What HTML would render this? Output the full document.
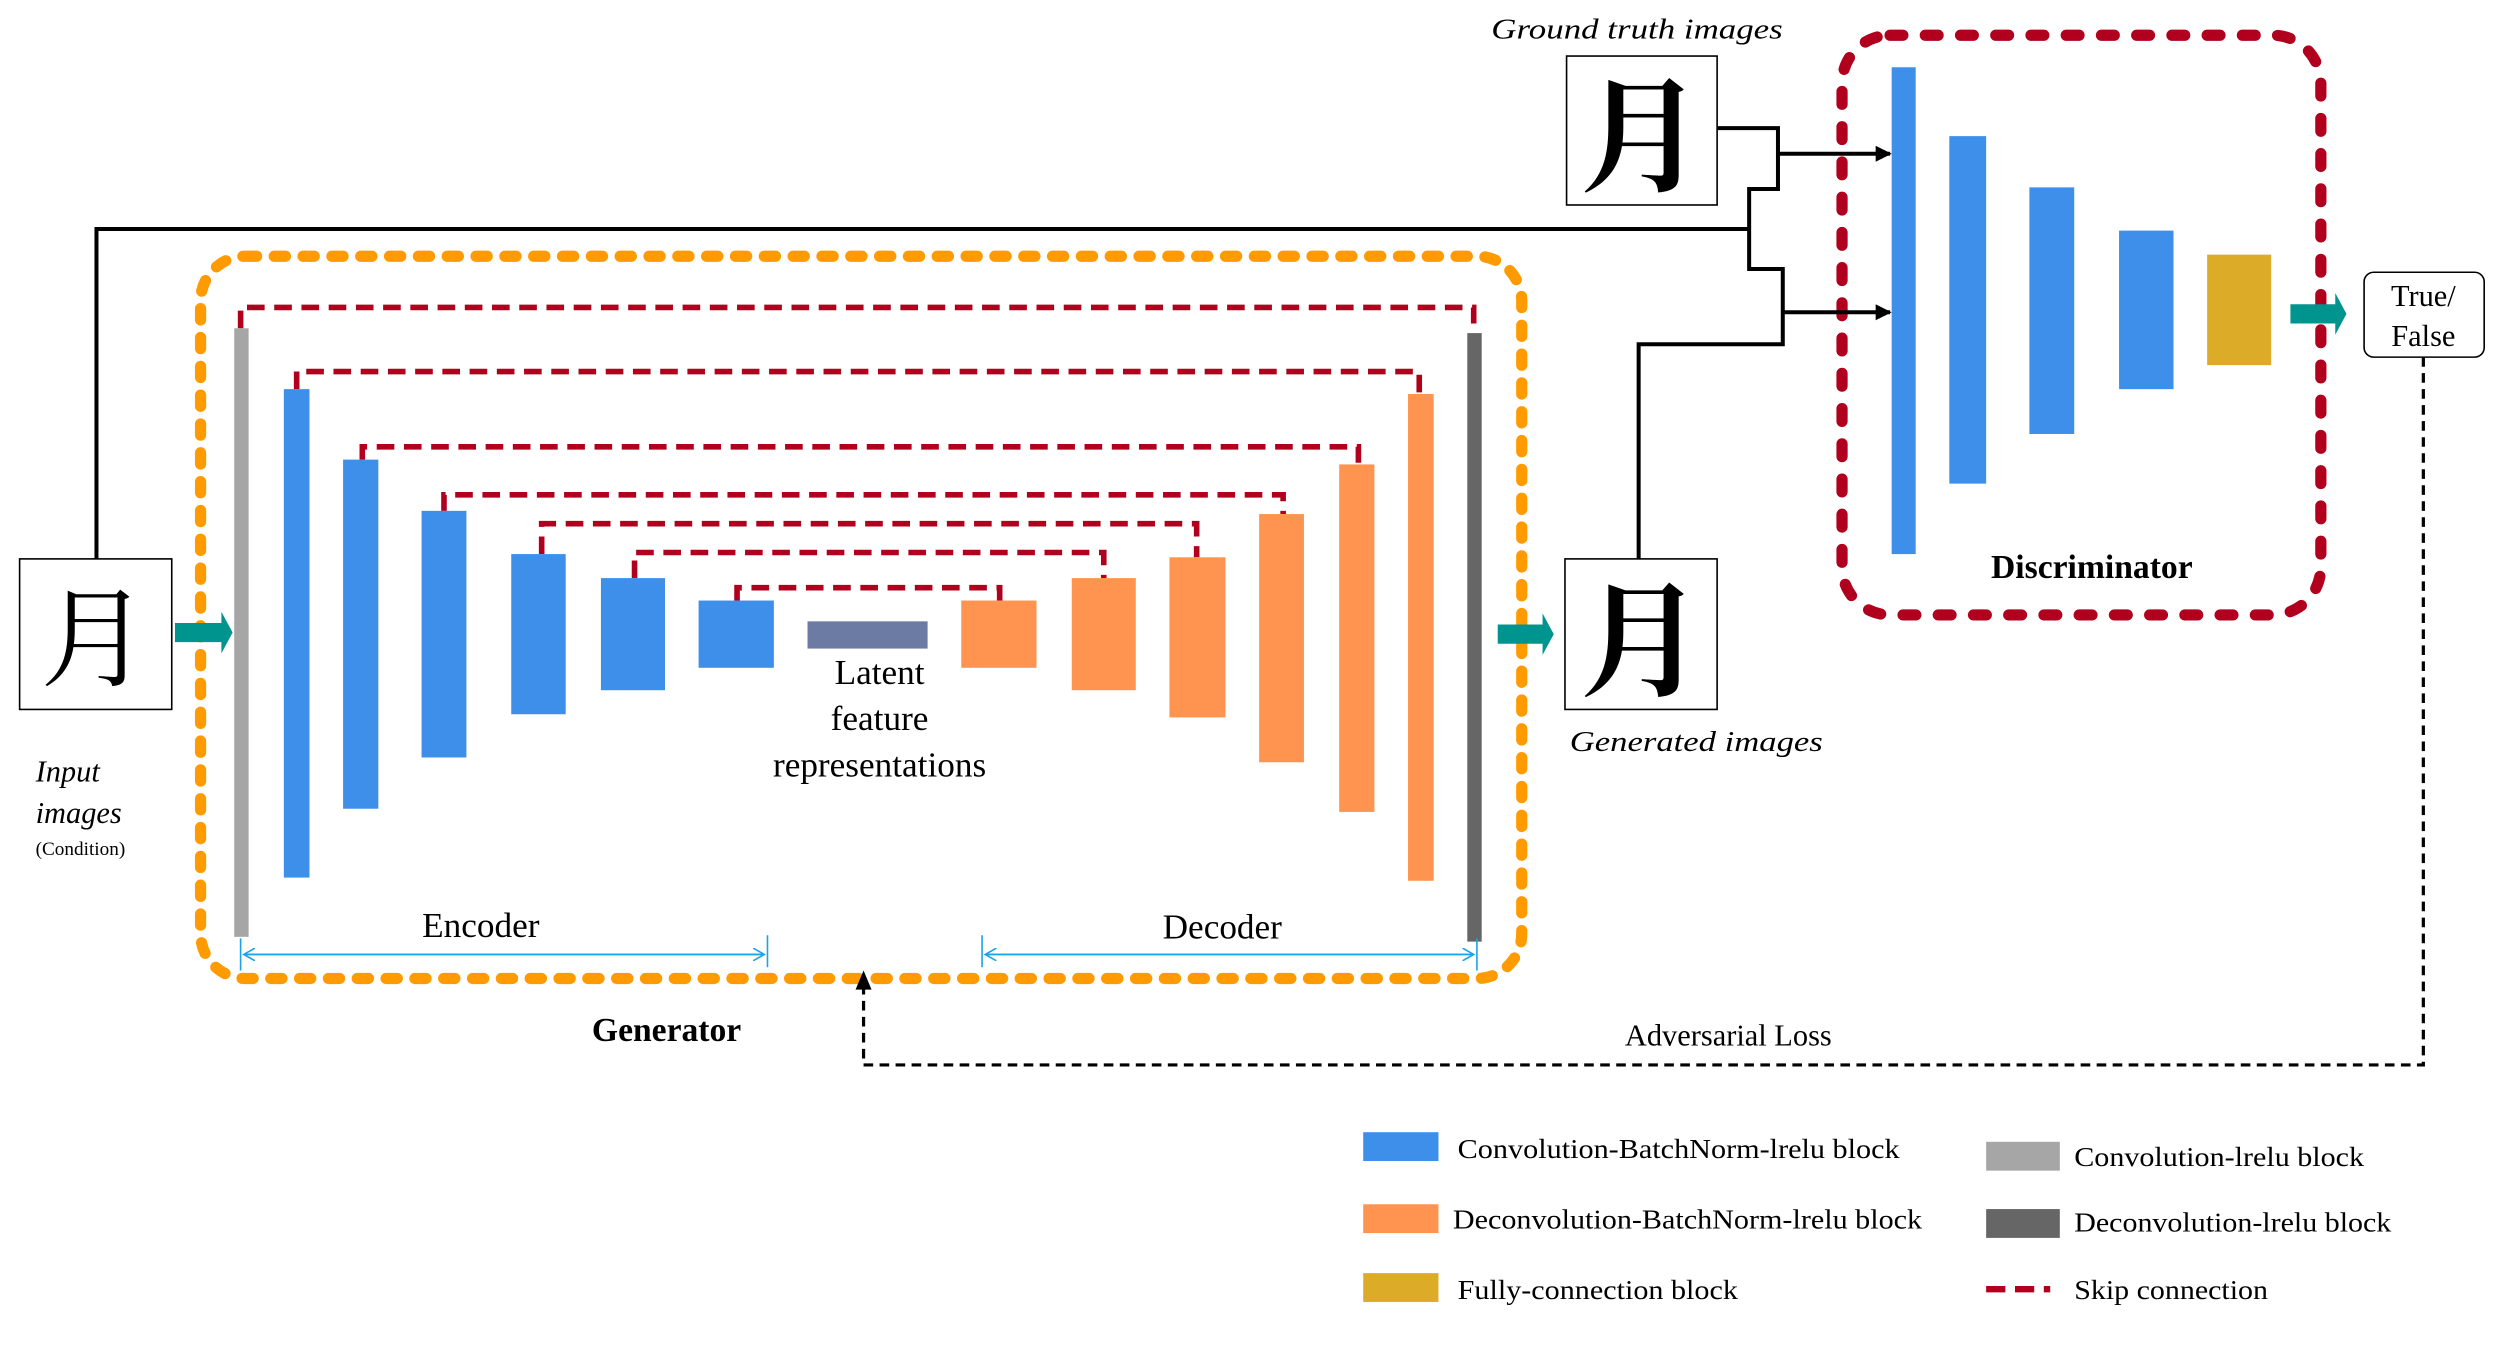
<!DOCTYPE html>
<html><head><meta charset="utf-8"><style>
html,body{margin:0;padding:0;background:#fff;}
svg{display:block}
text{font-family:"Liberation Serif","Noto Serif CJK SC",serif;}
</style></head><body>
<svg width="2499" height="1350" viewBox="0 0 1560 843" xmlns="http://www.w3.org/2000/svg">
<defs>
<marker id="ab" markerWidth="10" markerHeight="10" refX="9" refY="5" orient="auto" markerUnits="userSpaceOnUse"><path d="M0,0 L10,5 L0,10 z" fill="#000"/></marker>
<marker id="cy" markerWidth="8" markerHeight="8" refX="7" refY="4" orient="auto" markerUnits="userSpaceOnUse"><path d="M0,0 L7,4 L0,8" fill="none" stroke="#1aa3e8" stroke-width="1"/></marker>
</defs>
<rect x="125" y="160" width="825" height="451" rx="28" fill="none" stroke="#ff9a00" stroke-width="7" stroke-dasharray="7 11" stroke-linecap="round"/>
<rect x="1150" y="22" width="299" height="362" rx="30" fill="none" stroke="#b0001e" stroke-width="7" stroke-dasharray="8 14" stroke-linecap="round"/>

<g fill="none" stroke="#b0001e" stroke-width="3.5" stroke-dasharray="11 6">
<path d="M150,205 V192 H920 V208"/>
<path d="M185,243 V232 H886 V246"/>
<path d="M226,287 V279 H848 V290"/>
<path d="M277,319 V309 H801 V321"/>
<path d="M338,346 V327 H747 V348"/>
<path d="M396,361 V345 H689 V361"/>
<path d="M460,375 V367 H624 V375"/>
</g>
<rect x="146" y="205" width="9" height="380" fill="#a6a6a6"/>
<rect x="916" y="208" width="9" height="380" fill="#666"/>
<g fill="#3d8fea">
<rect x="177" y="243" width="16" height="305"/>
<rect x="214" y="287" width="22" height="218"/>
<rect x="263" y="319" width="28" height="154"/>
<rect x="319" y="346" width="34" height="100"/>
<rect x="375" y="361" width="40" height="70"/>
<rect x="436" y="375" width="47" height="42"/>
<rect x="1181" y="42" width="15" height="304"/>
<rect x="1217" y="85" width="23" height="217"/>
<rect x="1267" y="117" width="28" height="154"/>
<rect x="1323" y="144" width="34" height="99"/>
</g>
<rect x="504" y="388" width="75" height="17" fill="#6b7ba4"/>
<g fill="#ff9450">
<rect x="600" y="375" width="47" height="42"/>
<rect x="669" y="361" width="40" height="70"/>
<rect x="730" y="348" width="35" height="100"/>
<rect x="786" y="321" width="28" height="155"/>
<rect x="836" y="290" width="22" height="217"/>
<rect x="879" y="246" width="16" height="304"/>
</g>
<rect x="1378" y="159" width="40" height="69" fill="#dcab28"/>

<g fill="#00948f">
<path d="M109,389 H138 V382 L145,395 L138,408 V401 H109 z"/>
<path d="M935,390 H963 V383 L970,396 L963,409 V402 H935 z"/>
<path d="M1430,190 H1458 V183 L1465,196 L1458,209 V202 H1430 z"/>
</g>

<rect x="12" y="349" width="95" height="94" fill="#fff" stroke="#000" stroke-width="1"/>
<text x="59" y="423" font-size="68" text-anchor="middle" font-family="Noto Serif CJK SC,serif">月</text>
<rect x="977" y="349" width="95" height="94" fill="#fff" stroke="#000" stroke-width="1"/>
<text x="1025" y="428" font-size="78" text-anchor="middle" font-family="Noto Serif CJK SC,serif" font-weight="bold">月</text>
<rect x="978" y="35" width="94" height="93" fill="#fff" stroke="#000" stroke-width="1"/>
<text x="1025" y="113" font-size="78" text-anchor="middle" font-family="Noto Serif CJK SC,serif" font-weight="bold">月</text>

<g fill="none" stroke="#000" stroke-width="2.5">
<path d="M60,349 V143 H1092"/>
<path d="M1072,80 H1110 V118 H1092 V168 H1113 V215 H1023 V349"/>
<path d="M1110,96 H1180" marker-end="url(#ab)"/>
<path d="M1113,195 H1180" marker-end="url(#ab)"/>
</g>
<path d="M1513,223 V665 H539 V616" fill="none" stroke="#000" stroke-width="2" stroke-dasharray="6 4"/>
<path d="M534,618 L539,606 L544,618 z" fill="#000"/>

<rect x="1476" y="170" width="75" height="53" rx="6" fill="#fff" stroke="#000" stroke-width="1"/>
<text x="1513" y="191" font-size="19" text-anchor="middle">True/</text>
<text x="1513" y="216" font-size="19" text-anchor="middle">False</text>

<g stroke="#1aa3e8" stroke-width="1" fill="none">
<path d="M150,586 V606 M479,584 V604 M613,584 V604 M922,586 V606"/>
<path d="M152,596 H477" marker-end="url(#cy)"/>
<path d="M477,596 H152" marker-end="url(#cy)"/>
<path d="M615,596 H920" marker-end="url(#cy)"/>
<path d="M920,596 H615" marker-end="url(#cy)"/>
</g>
<text x="300" y="585" font-size="22" text-anchor="middle">Encoder</text>
<text x="763" y="586" font-size="22" text-anchor="middle">Decoder</text>
<text x="549" y="427" font-size="22" text-anchor="middle">Latent</text>
<text x="549" y="456" font-size="22" text-anchor="middle">feature</text>
<text x="549" y="485" font-size="22" text-anchor="middle">representations</text>
<text x="416" y="650" font-size="21" font-weight="bold" text-anchor="middle">Generator</text>
<text x="1306" y="361" font-size="21" font-weight="bold" text-anchor="middle">Discriminator</text>
<text x="1079" y="653" font-size="19" text-anchor="middle">Adversarial Loss</text>
<text x="22" y="488" font-size="19" font-style="italic">Input</text>
<text x="22" y="514" font-size="19" font-style="italic">images</text>
<text x="22" y="534" font-size="12">(Condition)</text>
<text x="980" y="469" font-size="18" font-style="italic" textLength="158" lengthAdjust="spacingAndGlyphs">Generated images</text>
<text x="931" y="24" font-size="18" font-style="italic" textLength="182" lengthAdjust="spacingAndGlyphs">Ground truth images</text>

<rect x="851" y="707" width="47" height="18" fill="#3d8fea"/>
<rect x="851" y="752" width="47" height="18" fill="#ff9450"/>
<rect x="851" y="795" width="47" height="18" fill="#dcab28"/>
<rect x="1240" y="713" width="46" height="18" fill="#a6a6a6"/>
<rect x="1240" y="755" width="46" height="18" fill="#666"/>
<path d="M1240,805 H1280" stroke="#b0001e" stroke-width="4" stroke-dasharray="12 6"/>
<g font-size="17">
<text x="910" y="723" textLength="276" lengthAdjust="spacingAndGlyphs">Convolution-BatchNorm-lrelu block</text>
<text x="907" y="767" textLength="293" lengthAdjust="spacingAndGlyphs">Deconvolution-BatchNorm-lrelu block</text>
<text x="910" y="811" textLength="175" lengthAdjust="spacingAndGlyphs">Fully-connection block</text>
<text x="1295" y="728" textLength="181" lengthAdjust="spacingAndGlyphs">Convolution-lrelu block</text>
<text x="1295" y="769" textLength="198" lengthAdjust="spacingAndGlyphs">Deconvolution-lrelu block</text>
<text x="1295" y="811" textLength="121" lengthAdjust="spacingAndGlyphs">Skip connection</text>
</g>
</svg>
</body></html>
